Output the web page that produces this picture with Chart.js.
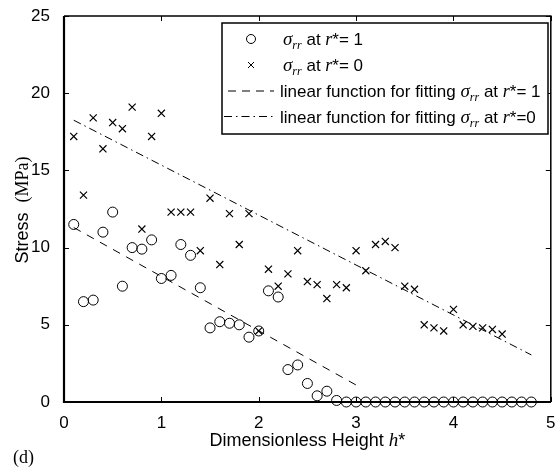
<!DOCTYPE html>
<html>
<head>
<meta charset="utf-8">
<script src="https://cdn.jsdelivr.net/npm/chart.js@4/dist/chart.umd.min.js"></script>
<style>
  html, body { margin: 0; padding: 0; background: #fff; overflow: hidden; }
  #chart { display: block; }
</style>
</head>
<body>
<canvas id="chart" width="557" height="468"></canvas>
<script>
// dimensionless height h* of the samples
const heightR1 = [0.1, 0.2, 0.3, 0.4, 0.5, 0.6, 0.7, 0.8, 0.9, 1.0,
    1.1, 1.2, 1.3, 1.4, 1.5, 1.6, 1.7, 1.8, 1.9, 2.0,
    2.1, 2.2, 2.3, 2.4, 2.5, 2.6, 2.7, 2.8, 2.9, 3.0,
    3.1, 3.2, 3.3, 3.4, 3.5, 3.6, 3.7, 3.8, 3.9, 4.0,
    4.1, 4.2, 4.3, 4.4, 4.5, 4.6, 4.7, 4.8]
const stressR1 = [11.5, 6.5, 6.6, 11.0, 12.3, 7.5, 10.0, 9.9, 10.5, 8.0,
    8.2, 10.2, 9.5, 7.4, 4.8, 5.2, 5.1, 5.0, 4.2, 4.6,
    7.2, 6.8, 2.1, 2.4, 1.2, 0.4, 0.7, 0.1, 0, 0,
    0, 0, 0, 0, 0, 0, 0, 0, 0, 0,
    0, 0, 0, 0, 0, 0, 0, 0]
const heightR0 = [0.1, 0.2, 0.3, 0.4, 0.5, 0.6, 0.7, 0.8, 0.9, 1.0,
    1.1, 1.2, 1.3, 1.4, 1.5, 1.6, 1.7, 1.8, 1.9, 2.0,
    2.1, 2.2, 2.3, 2.4, 2.5, 2.6, 2.7, 2.8, 2.9, 3.0,
    3.1, 3.2, 3.3, 3.4, 3.5, 3.6, 3.7, 3.8, 3.9, 4.0,
    4.1, 4.2, 4.3, 4.4, 4.5]
const stressR0 = [17.2, 13.4, 18.4, 16.4, 18.1, 17.7, 19.1, 11.2, 17.2, 18.7,
    12.3, 12.3, 12.3, 9.8, 13.2, 8.9, 12.2, 10.2, 12.2, 4.6,
    8.6, 7.5, 8.3, 9.8, 7.8, 7.6, 6.7, 7.6, 7.4, 9.8,
    8.5, 10.2, 10.4, 10.0, 7.5, 7.3, 5.0, 4.8, 4.6, 6.0,
    5.0, 4.9, 4.8, 4.7, 4.4]
// end points of the two fitted lines
const fitR1X = [0.1, 3.0]
const fitR1Y = [11.3, 1.1]
const fitR0X = [0.1, 4.8]
const fitR0Y = [18.25, 3.05]

const xTicks = [0, 1, 2, 3, 4, 5]
const yTicks = [0, 5, 10, 15, 20, 25]

const SANS = '"Liberation Sans", Arial, sans-serif'
const SERIF = '"Liberation Serif", "Times New Roman", serif'

const toPoints = (xs, ys) => xs.map((x, i) => ({x: x, y: ys[i]}))

// draws a row of text pieces with different fonts
const drawRich = (ctx, x, y, parts) => {
    parts.forEach(p => {
        ctx.font = p[1]
        ctx.fillText(p[0], x, y + (p[2] || 0))
        x += ctx.measureText(p[0]).width
    })
    return x
}
const richWidth = (ctx, parts) => {
    let w = 0
    parts.forEach(p => { ctx.font = p[1]; w += ctx.measureText(p[0]).width })
    return w
}
const sigmaParts = (rest) => [
    ['σ', 'italic 19px ' + SERIF],
    ['rr', 'italic 12px ' + SERIF, 4],
    [' at ', '17px ' + SANS],
    ['r', 'italic 18px ' + SERIF],
    [rest, '17px ' + SANS]
]

const framePlugin = {
    id: 'frame',
    afterDraw(chart) {
        const ctx = chart.ctx
        const a = chart.chartArea
        const xs = chart.scales.x
        const ys = chart.scales.y
        ctx.save()
        ctx.strokeStyle = '#000'
        ctx.fillStyle = '#000'
        // inward ticks on all four sides
        ctx.lineWidth = 1
        ctx.beginPath()
        xTicks.forEach(t => {
            const px = Math.round(xs.getPixelForValue(t)) + 0.5
            ctx.moveTo(px, a.bottom); ctx.lineTo(px, a.bottom - 5)
            ctx.moveTo(px, a.top); ctx.lineTo(px, a.top + 5)
        })
        yTicks.forEach(t => {
            const py = Math.round(ys.getPixelForValue(t)) + 0.5
            ctx.moveTo(a.left, py); ctx.lineTo(a.left + 5, py)
            ctx.moveTo(a.right, py); ctx.lineTo(a.right - 5, py)
        })
        ctx.stroke()
        // box
        ctx.lineWidth = 1.5
        ctx.beginPath()
        ctx.moveTo(a.left, a.top); ctx.lineTo(a.right, a.top); ctx.lineTo(a.right, a.bottom)
        ctx.stroke()
        ctx.lineWidth = 2.2
        ctx.beginPath()
        ctx.moveTo(a.left, a.top); ctx.lineTo(a.left, a.bottom); ctx.lineTo(a.right, a.bottom)
        ctx.stroke()

        // legend
        const L = {x: 222, y: 23, w: 326, h: 111}
        ctx.fillStyle = '#fff'
        ctx.fillRect(L.x, L.y, L.w, L.h)
        ctx.lineWidth = 1.5
        ctx.strokeRect(L.x, L.y, L.w, L.h)
        ctx.fillStyle = '#000'
        ctx.textBaseline = 'alphabetic'
        ctx.textAlign = 'left'
        const rows = [39, 65, 91, 116.5]
        ctx.lineWidth = 1
        ctx.beginPath()
        ctx.arc(251, rows[0], 4.5, 0, Math.PI * 2)
        ctx.stroke()
        ctx.beginPath()
        ctx.moveTo(248, rows[1] - 3); ctx.lineTo(254, rows[1] + 3)
        ctx.moveTo(254, rows[1] - 3); ctx.lineTo(248, rows[1] + 3)
        ctx.stroke()
        ctx.setLineDash([8, 6])
        ctx.beginPath()
        ctx.moveTo(228, rows[2]); ctx.lineTo(274, rows[2])
        ctx.stroke()
        ctx.setLineDash([8, 4, 1.5, 4])
        ctx.beginPath()
        ctx.moveTo(224, rows[3]); ctx.lineTo(274, rows[3])
        ctx.stroke()
        ctx.setLineDash([])
        drawRich(ctx, 283, rows[0] + 6, sigmaParts('*= 1'))
        drawRich(ctx, 283, rows[1] + 6, sigmaParts('*= 0'))
        drawRich(ctx, 280, rows[2] + 6, [['linear function for fitting ', '17px ' + SANS]].concat(sigmaParts('*= 1')))
        drawRich(ctx, 280, rows[3] + 6, [['linear function for fitting ', '17px ' + SANS]].concat(sigmaParts('*=0')))

        // axis titles
        const xt = [['Dimensionless Height ', '18px ' + SANS], ['h', 'italic 19px ' + SERIF], ['*', '18px ' + SANS]]
        drawRich(ctx, (a.left + a.right) / 2 - richWidth(ctx, xt) / 2, 446, xt)
        const yt = [['Stress  ', '18px ' + SANS], ['(MPa)', '18px ' + SERIF]]
        ctx.save()
        ctx.translate(28, 210)
        ctx.rotate(-Math.PI / 2)
        drawRich(ctx, -richWidth(ctx, yt) / 2, 0, yt)
        ctx.restore()
        drawRich(ctx, 13, 463, [['(d)', '18px ' + SERIF]])
        ctx.restore()
    }
}

new Chart(document.getElementById('chart'), {
    type: 'scatter',
    data: {
        datasets: [
            {
                data: toPoints(heightR1, stressR1),
                pointStyle: 'circle',
                pointRadius: 5,
                borderColor: '#000',
                backgroundColor: 'rgba(0,0,0,0)',
                borderWidth: 1,
                clip: 8
            },
            {
                data: toPoints(heightR0, stressR0),
                pointStyle: 'crossRot',
                pointRadius: 5,
                borderColor: '#000',
                borderWidth: 1.2,
                clip: 8
            },
            {
                type: 'line',
                data: toPoints(fitR1X, fitR1Y),
                borderColor: '#000',
                borderWidth: 1,
                borderDash: [8, 7],
                pointRadius: 0,
                fill: false
            },
            {
                type: 'line',
                data: toPoints(fitR0X, fitR0Y),
                borderColor: '#000',
                borderWidth: 1,
                borderDash: [8, 4, 1.5, 4],
                pointRadius: 0,
                fill: false
            }
        ]
    },
    options: {
        responsive: false,
        animation: false,
        layout: {padding: {left: 0, top: 16, right: 5, bottom: 0}},
        plugins: {legend: {display: false}, tooltip: {enabled: false}},
        scales: {
            x: {
                type: 'linear',
                min: 0,
                max: 5,
                grid: {display: false},
                border: {display: false},
                afterBuildTicks: (s) => { s.ticks = xTicks.map(v => ({value: v})) },
                ticks: {color: '#000', padding: 3, maxRotation: 0, font: {family: SANS, size: 17}},
                afterFit: (s) => { s.height = 66; s.paddingLeft = 0; s.paddingRight = 0 }
            },
            y: {
                type: 'linear',
                min: 0,
                max: 25,
                grid: {display: false},
                border: {display: false},
                afterBuildTicks: (s) => { s.ticks = yTicks.map(v => ({value: v})) },
                ticks: {color: '#000', padding: 6, font: {family: SANS, size: 17}},
                afterFit: (s) => { s.width = 64; s.paddingTop = 0; s.paddingBottom = 0 }
            }
        }
    },
    plugins: [framePlugin]
})
</script>
</body>
</html>
